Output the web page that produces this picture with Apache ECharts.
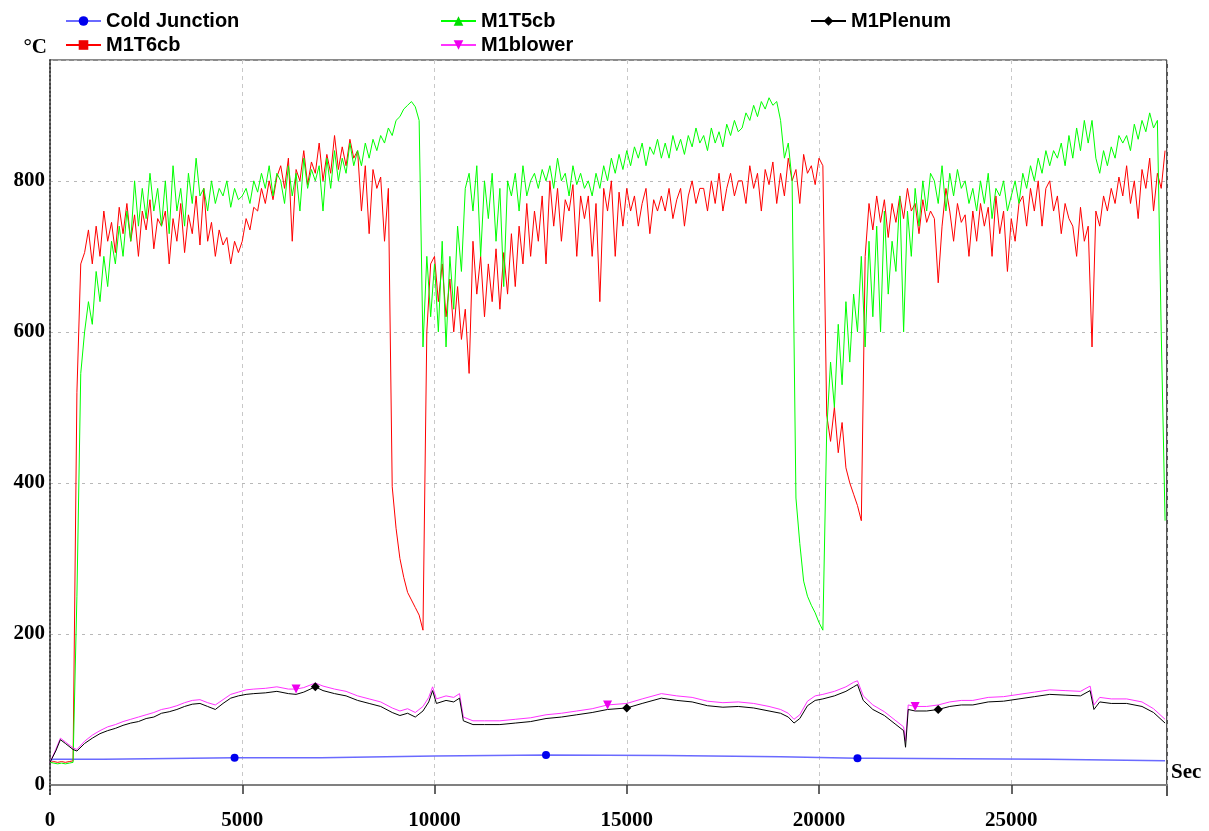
<!DOCTYPE html>
<html>
<head>
<meta charset="utf-8">
<script src="https://cdn.jsdelivr.net/npm/echarts@6/dist/echarts.min.js"></script>
<style>
  html, body { margin: 0; padding: 0; background: #fff; }
  #chart { width: 1209px; height: 831px; }
</style>
</head>
<body>
<div id="chart"></div>
<script>
// logger samples every 100 s for the two combustion thermocouples
const sampleStep = 100;

const t6cbValues = [
  30, 31, 30, 31, 30, 31, 32, 520, 690, 705,
  735, 690, 740, 700, 760, 720, 745, 705, 765, 730,
  770, 720, 755, 700, 760, 735, 775, 710, 750, 740,
  760, 690, 750, 720, 770, 705, 755, 730, 780, 715,
  790, 720, 745, 700, 735, 715, 725, 690, 720, 705,
  720, 750, 735, 765, 760, 790, 770, 800, 775, 805,
  820, 790, 830, 720, 815, 800, 840, 795, 825, 810,
  850, 800, 835, 810, 860, 815, 845, 820, 855, 830,
  840, 760, 820, 730, 815, 790, 805, 720, 790, 395,
  340, 300, 275, 255, 245, 235, 225, 205, 600, 690,
  700, 640, 690, 620, 670, 600, 660, 590, 630, 545,
  720, 650, 700, 620, 690, 640, 710, 630, 705, 650,
  730, 660, 740, 690, 770, 700, 760, 720, 780, 690,
  800, 740, 790, 720, 775, 760, 795, 700, 780, 750,
  780, 700, 770, 640, 790, 760, 800, 700, 785, 740,
  790, 760, 780, 740, 770, 790, 730, 775, 760, 780,
  760, 790, 750, 775, 790, 740, 780, 800, 770, 790,
  790, 760, 800, 770, 810, 760, 790, 810, 780, 800,
  800, 770, 820, 790, 810, 760, 815, 795, 825, 770,
  810, 780, 830, 800, 815, 770, 835, 810, 820, 795,
  830, 820, 490, 455, 500, 440, 480, 420, 400, 385,
  370, 350, 700, 770, 735, 780, 745, 775, 725, 770,
  745, 780, 750, 790, 760, 770, 730, 775, 745, 760,
  750, 665, 740, 790, 760, 720, 770, 745, 755, 700,
  760, 720, 770, 740, 765, 700, 780, 730, 760, 680,
  750, 720, 770, 780, 740, 790, 760, 800, 740, 790,
  800, 760, 780, 730, 770, 750, 740, 700, 765, 720,
  740, 580, 760, 740, 780, 760, 790, 770, 805, 780,
  820, 770, 800, 750, 815, 790, 830, 760, 810, 790,
  840
];

const t5cbValues = [
  30, 29, 28, 29, 28, 29, 30, 250, 545, 600,
  640, 610, 680, 640, 700, 660, 720, 690, 740, 700,
  760, 720, 800, 740, 790, 750, 810, 760, 790, 740,
  800, 730, 820, 760, 790, 740, 810, 770, 830, 780,
  790, 760, 800, 770, 790, 780, 800, 765, 790, 775,
  780, 790, 770, 800, 785, 810, 790, 820, 780, 810,
  800, 770, 820, 780, 810, 760, 830, 790, 815, 800,
  820, 760, 830, 790, 840, 800, 830, 810, 850, 820,
  840, 820, 850, 830, 855, 840, 860, 850, 870, 860,
  880, 885, 895, 900, 905, 898, 880, 580, 700, 620,
  690, 600, 720, 580, 700, 630, 740, 680, 790, 810,
  760, 820, 700, 800, 750, 810, 720, 790, 660, 800,
  780, 810, 760, 820, 780, 800, 810, 790, 815, 800,
  820, 790, 830, 800, 810, 780, 820, 795, 810, 790,
  800, 780, 810, 790, 820, 800, 830, 810, 835, 815,
  840, 820, 845, 830, 850, 820, 845, 835, 855, 830,
  850, 830, 860, 840, 855, 835, 860, 845, 870, 850,
  860, 840, 870, 850, 865, 845, 875, 860, 880, 865,
  870, 890, 880, 900, 885, 905, 895, 910, 900, 905,
  880, 830, 850, 800, 380, 320, 270, 250, 238, 228,
  215, 205, 470, 560, 500, 610, 530, 640, 560, 650,
  600, 700, 580, 720, 620, 740, 600, 760, 650, 720,
  680, 780, 600, 760, 700, 790, 740, 800, 760, 810,
  800, 770, 820, 760, 810, 780, 815, 790, 800, 770,
  790, 760, 800, 770, 810, 750, 790, 780, 800, 760,
  780, 800, 770, 810, 790, 820, 800, 830, 810, 840,
  820, 840, 830, 850, 820, 860, 830, 870, 840, 880,
  850, 880, 830, 810, 840, 820, 845, 830, 860, 850,
  860, 840, 875, 855, 880, 865, 890, 870, 880, 600,
  350
];

// slower channels, logged on change
const coldJunctionTimes = [0, 100, 1400, 1450, 4800, 7050, 7100, 10000, 12900, 16000, 19000, 21000, 21400, 21450, 25950, 26000, 29000];
const coldJunctionValues = [33, 34, 34, 36, 36, 36, 37.5, 38.5, 39.7, 39, 37.5, 35.5, 35.5, 34, 34, 32, 32];
const coldJunctionMarks = [4800, 12900, 21000];

const plenumTimes = [
  0, 150, 270, 400, 600, 700, 900, 1100, 1300, 1500, 1700, 1900, 2100, 2300, 2500, 2700, 2900,
  3100, 3300, 3500, 3700, 3900, 4100, 4300, 4500, 4700, 4900, 5100, 5300, 5600, 5900, 6200, 6400,
  6600, 6900, 7100, 7400, 7700, 8000, 8300, 8600, 8900, 9100, 9300, 9500, 9700, 9850, 9950, 10050,
  10300, 10500, 10650, 10750, 11000, 11300, 11700, 12100, 12500, 12900, 13300, 13700, 14100, 14500,
  15000, 15400, 15900, 16300, 16700, 17100, 17500, 17900, 18300, 18700, 19000, 19200, 19350, 19500,
  19700, 19900, 20100, 20400, 20700, 20900, 21000, 21150, 21400, 21700, 22000, 22200, 22250, 22320,
  22500, 22800, 23100, 23400, 23700, 24000, 24400, 24800, 25200, 25600, 26000, 26400, 26800, 27050,
  27150, 27300, 27600, 28000, 28400, 28700, 29000
];
const plenumValues = [
  30, 45, 60, 55, 47, 45, 55, 62, 68, 72, 75, 79, 82, 84, 88, 90, 95,
  97, 100, 104, 107, 108, 104, 100, 108, 115, 118, 120, 121, 122, 124, 121, 120,
  123, 130, 125, 121, 118, 112, 108, 104, 96, 92, 95, 90, 98, 110, 125, 108,
  112, 110, 115, 85, 80, 80, 80, 82, 84, 88, 90, 93, 96, 100,
  102, 108, 115, 112, 110, 105, 103, 104, 102, 98, 95, 90, 82, 88,
  105, 112, 114, 118, 124, 130, 133, 112, 100, 92, 80, 72, 50, 100,
  98, 98, 100, 104, 106, 106, 110, 111, 114, 117, 120, 119, 118, 125,
  100, 110, 108, 108, 104, 96, 82
];
const plenumMarks = [6900, 15000, 23100];

const blowerTimes = [
  0, 150, 270, 400, 600, 700, 900, 1100, 1300, 1500, 1700, 1900, 2100, 2300, 2500, 2700, 2900,
  3100, 3300, 3500, 3700, 3900, 4100, 4300, 4500, 4700, 4900, 5100, 5300, 5600, 5900, 6200, 6400,
  6600, 6900, 7100, 7400, 7700, 8000, 8300, 8600, 8900, 9100, 9300, 9500, 9700, 9850, 9950, 10050,
  10300, 10500, 10650, 10750, 11000, 11300, 11700, 12100, 12500, 12900, 13300, 13700, 14100, 14500,
  15000, 15400, 15900, 16300, 16700, 17100, 17500, 17900, 18300, 18700, 19000, 19200, 19350, 19500,
  19700, 19900, 20100, 20400, 20700, 20900, 21000, 21150, 21400, 21700, 22000, 22200, 22250, 22320,
  22500, 22800, 23100, 23400, 23700, 24000, 24400, 24800, 25200, 25600, 26000, 26400, 26800, 27050,
  27150, 27300, 27600, 28000, 28400, 28700, 29000
];
const blowerValues = [
  30, 47, 62, 57, 49, 47, 58, 66, 72, 77, 80, 84, 87, 90, 93, 96, 100,
  102, 105, 109, 112, 113, 109, 106, 113, 120, 123, 126, 127, 128, 130, 127, 127,
  129, 135, 131, 127, 124, 118, 114, 110, 102, 98, 101, 96, 104, 116, 130, 114,
  118, 116, 121, 90, 85, 85, 85, 87, 89, 93, 95, 98, 101, 106,
  108, 114, 121, 118, 116, 111, 109, 110, 108, 104, 100, 95, 87, 93,
  111, 118, 120, 124, 130, 136, 138, 118, 106, 97, 85, 77, 58, 106,
  104, 104, 106, 110, 112, 112, 116, 117, 120, 123, 126, 125, 124, 131,
  106, 116, 114, 114, 110, 101, 87
];
const blowerMarks = [6400, 14500, 22500];

const GRID_LEFT = 50;
const GRID_RIGHT = 42;
const GRID_TOP = 60;
const GRID_BOTTOM = 46;
const AXIS_DROP = 11; // x axis sits a little under the 0 line
const W = 1209, H = 831;

const sampleTimes = t6cbValues.map((_, i) => i * sampleStep);

// only the few marked points carry a symbol
function buildData(times, values, marks) {
  return times.map((t, i) => marks.includes(t)
    ? [t, values[i]]
    : { value: [t, values[i]], symbol: 'none' });
}

const chart = echarts.init(document.getElementById('chart'));

const legendText = { fontFamily: 'Liberation Sans', fontWeight: 'bold', fontSize: 20, color: '#000' };
const legendBase = {
  orient: 'vertical', top: 6, itemGap: 4, itemWidth: 35, itemHeight: 12,
  textStyle: legendText, selectedMode: false
};

const labelFont = { fontFamily: 'Liberation Serif', fontWeight: 'bold', fontSize: 21, color: '#000' };

chart.setOption({
  animation: false,
  backgroundColor: '#fff',
  legend: [
    Object.assign({}, legendBase, { left: 60, data: ['Cold Junction', 'M1T6cb'] }),
    Object.assign({}, legendBase, { left: 435, data: ['M1T5cb', 'M1blower'] }),
    Object.assign({}, legendBase, { left: 805, data: ['M1Plenum'] })
  ],
  grid: { left: GRID_LEFT, right: GRID_RIGHT, top: GRID_TOP, bottom: GRID_BOTTOM, containLabel: false },
  xAxis: {
    type: 'value',
    min: 0,
    max: 29050,
    interval: 5000,
    offset: AXIS_DROP,
    name: 'Sec',
    nameLocation: 'end',
    nameGap: 4,
    nameTextStyle: Object.assign({}, labelFont, { align: 'left', verticalAlign: 'bottom', padding: [0, 0, 2, 0] }),
    axisLine: { show: true, lineStyle: { color: '#808080', width: 2 } },
    axisTick: { show: true, inside: false, length: 9, lineStyle: { color: '#333', width: 1.5 } },
    axisLabel: Object.assign({}, labelFont, { margin: 14, showMaxLabel: false, formatter: v => String(v) }),
    splitLine: { show: true, lineStyle: { color: '#c8c8c8', width: 1, type: [4, 4] } }
  },
  yAxis: {
    type: 'value',
    min: 0,
    max: 960,
    interval: 200,
    name: '°C',
    nameLocation: 'end',
    nameGap: 2,
    nameTextStyle: Object.assign({}, labelFont, { align: 'right', padding: [0, 3, 0, 0] }),
    axisLine: { show: true, lineStyle: { color: '#444', width: 2, type: [2, 2] } },
    axisTick: { show: false },
    axisLabel: Object.assign({}, labelFont, { margin: 5, showMaxLabel: false, formatter: v => String(v) }),
    splitLine: { show: true, lineStyle: { color: '#b8b8b8', width: 1, type: [3, 5] } }
  },
  graphic: [
    {
      type: 'line', silent: true,
      shape: { x1: GRID_LEFT, y1: GRID_TOP, x2: W - GRID_RIGHT, y2: GRID_TOP },
      style: { stroke: '#8a8a8a', lineWidth: 2 }
    },
    {
      type: 'line', silent: true,
      shape: { x1: W - GRID_RIGHT, y1: GRID_TOP, x2: W - GRID_RIGHT, y2: H - GRID_BOTTOM + AXIS_DROP },
      style: { stroke: '#555', lineWidth: 2 }
    },
    {
      type: 'line', silent: true,
      shape: { x1: GRID_LEFT, y1: H - GRID_BOTTOM, x2: GRID_LEFT, y2: H - GRID_BOTTOM + AXIS_DROP },
      style: { stroke: '#444', lineWidth: 2, lineDash: [2, 2] }
    }
  ],
  series: [
    {
      name: 'Cold Junction', type: 'line',
      symbol: 'circle', symbolSize: 8, showAllSymbol: true,
      itemStyle: { color: '#0000ee' },
      lineStyle: { color: '#6a6aff', width: 1.5 },
      data: buildData(coldJunctionTimes, coldJunctionValues, coldJunctionMarks)
    },
    {
      name: 'M1T6cb', type: 'line',
      symbol: 'rect', symbolSize: 8, showAllSymbol: true,
      itemStyle: { color: '#ee0000' },
      lineStyle: { color: '#ff0000', width: 1 },
      data: buildData(sampleTimes, t6cbValues, [])
    },
    {
      name: 'M1T5cb', type: 'line',
      symbol: 'triangle', symbolSize: 9, showAllSymbol: true,
      itemStyle: { color: '#00dd00' },
      lineStyle: { color: '#00ff00', width: 1 },
      data: buildData(sampleTimes, t5cbValues, [])
    },
    {
      name: 'M1blower', type: 'line',
      symbol: 'triangle', symbolRotate: 180, symbolSize: 9, showAllSymbol: true,
      itemStyle: { color: '#ee00ee' },
      lineStyle: { color: '#ff33ff', width: 1 },
      data: buildData(blowerTimes, blowerValues, blowerMarks)
    },
    {
      name: 'M1Plenum', type: 'line',
      symbol: 'diamond', symbolSize: 9, showAllSymbol: true,
      itemStyle: { color: '#000' },
      lineStyle: { color: '#000', width: 1 },
      data: buildData(plenumTimes, plenumValues, plenumMarks)
    }
  ]
});
</script>
</body>
</html>
